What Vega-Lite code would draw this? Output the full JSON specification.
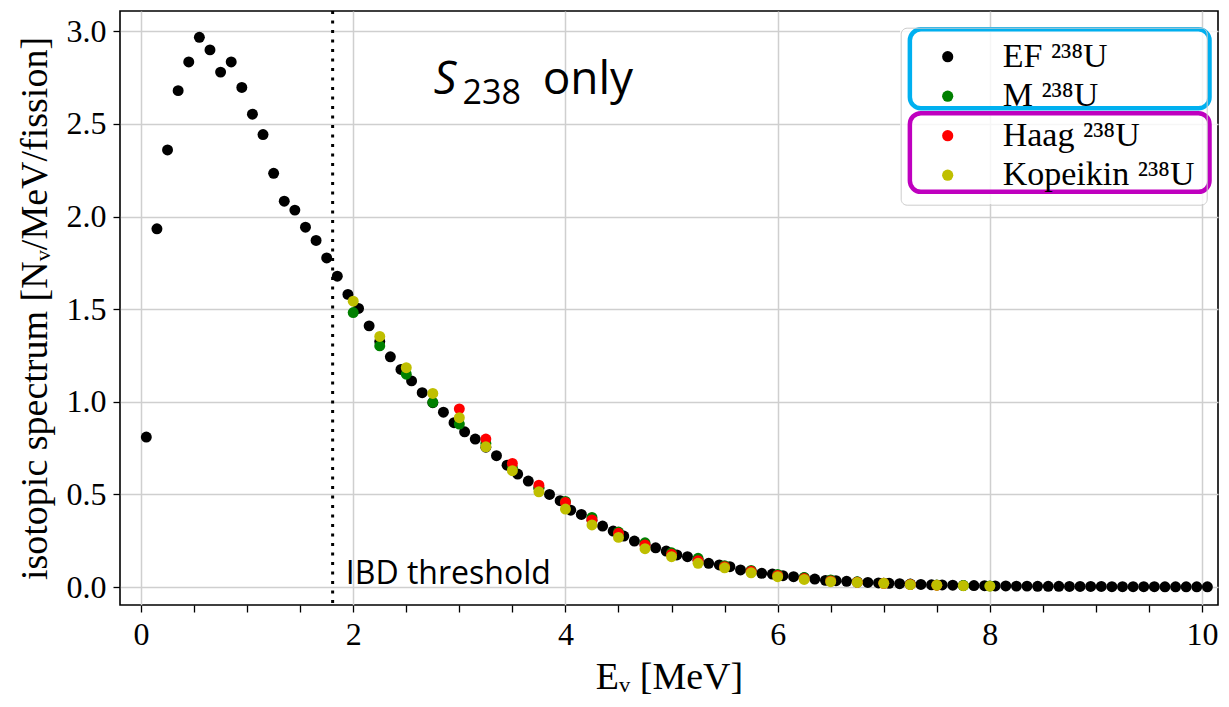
{
  "$schema": "https://vega.github.io/schema/vega-lite/v6.json",
  "width": 1098,
  "height": 594,
  "autosize": {"type": "none"},
  "padding": {"left": 120, "top": 11, "right": 11, "bottom": 102},
  "background": "white",
  "config": {
    "view": {"stroke": "black", "strokeWidth": 1.6},
    "axis": {
      "labelFont": "Liberation Serif",
      "labelFontSize": 32,
      "labelColor": "black",
      "titleFont": "Liberation Serif",
      "titleFontSize": 38,
      "titleFontWeight": "normal",
      "titleColor": "black",
      "tickColor": "black",
      "tickSize": 7,
      "tickWidth": 1.3,
      "domain": false,
      "gridColor": "#cfcfcf",
      "gridWidth": 1.5,
      "labelPadding": 7
    }
  },
  "datasets": {
    "spectra": [
      {"E": 0.05, "S": 0.81, "model": "EF ²³⁸U"},
      {"E": 0.15, "S": 1.934, "model": "EF ²³⁸U"},
      {"E": 0.25, "S": 2.36, "model": "EF ²³⁸U"},
      {"E": 0.35, "S": 2.68, "model": "EF ²³⁸U"},
      {"E": 0.45, "S": 2.835, "model": "EF ²³⁸U"},
      {"E": 0.55, "S": 2.968, "model": "EF ²³⁸U"},
      {"E": 0.65, "S": 2.9, "model": "EF ²³⁸U"},
      {"E": 0.75, "S": 2.78, "model": "EF ²³⁸U"},
      {"E": 0.85, "S": 2.835, "model": "EF ²³⁸U"},
      {"E": 0.95, "S": 2.697, "model": "EF ²³⁸U"},
      {"E": 1.05, "S": 2.553, "model": "EF ²³⁸U"},
      {"E": 1.15, "S": 2.443, "model": "EF ²³⁸U"},
      {"E": 1.25, "S": 2.234, "model": "EF ²³⁸U"},
      {"E": 1.35, "S": 2.083, "model": "EF ²³⁸U"},
      {"E": 1.45, "S": 2.035, "model": "EF ²³⁸U"},
      {"E": 1.55, "S": 1.943, "model": "EF ²³⁸U"},
      {"E": 1.65, "S": 1.871, "model": "EF ²³⁸U"},
      {"E": 1.75, "S": 1.777, "model": "EF ²³⁸U"},
      {"E": 1.85, "S": 1.678, "model": "EF ²³⁸U"},
      {"E": 1.95, "S": 1.58, "model": "EF ²³⁸U"},
      {"E": 2.05, "S": 1.504, "model": "EF ²³⁸U"},
      {"E": 2.15, "S": 1.41, "model": "EF ²³⁸U"},
      {"E": 2.25, "S": 1.325, "model": "EF ²³⁸U"},
      {"E": 2.35, "S": 1.243, "model": "EF ²³⁸U"},
      {"E": 2.45, "S": 1.175, "model": "EF ²³⁸U"},
      {"E": 2.55, "S": 1.113, "model": "EF ²³⁸U"},
      {"E": 2.65, "S": 1.049, "model": "EF ²³⁸U"},
      {"E": 2.75, "S": 0.995, "model": "EF ²³⁸U"},
      {"E": 2.85, "S": 0.944, "model": "EF ²³⁸U"},
      {"E": 2.95, "S": 0.887, "model": "EF ²³⁸U"},
      {"E": 3.05, "S": 0.838, "model": "EF ²³⁸U"},
      {"E": 3.15, "S": 0.799, "model": "EF ²³⁸U"},
      {"E": 3.25, "S": 0.755, "model": "EF ²³⁸U"},
      {"E": 3.35, "S": 0.709, "model": "EF ²³⁸U"},
      {"E": 3.45, "S": 0.658, "model": "EF ²³⁸U"},
      {"E": 3.55, "S": 0.61, "model": "EF ²³⁸U"},
      {"E": 3.65, "S": 0.572, "model": "EF ²³⁸U"},
      {"E": 3.75, "S": 0.535, "model": "EF ²³⁸U"},
      {"E": 3.85, "S": 0.5, "model": "EF ²³⁸U"},
      {"E": 3.95, "S": 0.466, "model": "EF ²³⁸U"},
      {"E": 4.05, "S": 0.415, "model": "EF ²³⁸U"},
      {"E": 4.15, "S": 0.392, "model": "EF ²³⁸U"},
      {"E": 4.25, "S": 0.36, "model": "EF ²³⁸U"},
      {"E": 4.35, "S": 0.329, "model": "EF ²³⁸U"},
      {"E": 4.45, "S": 0.302, "model": "EF ²³⁸U"},
      {"E": 4.55, "S": 0.275, "model": "EF ²³⁸U"},
      {"E": 4.65, "S": 0.248, "model": "EF ²³⁸U"},
      {"E": 4.75, "S": 0.228, "model": "EF ²³⁸U"},
      {"E": 4.85, "S": 0.212, "model": "EF ²³⁸U"},
      {"E": 4.95, "S": 0.194, "model": "EF ²³⁸U"},
      {"E": 5.05, "S": 0.173, "model": "EF ²³⁸U"},
      {"E": 5.15, "S": 0.164, "model": "EF ²³⁸U"},
      {"E": 5.25, "S": 0.145, "model": "EF ²³⁸U"},
      {"E": 5.35, "S": 0.128, "model": "EF ²³⁸U"},
      {"E": 5.45, "S": 0.119, "model": "EF ²³⁸U"},
      {"E": 5.55, "S": 0.11, "model": "EF ²³⁸U"},
      {"E": 5.65, "S": 0.092, "model": "EF ²³⁸U"},
      {"E": 5.75, "S": 0.083, "model": "EF ²³⁸U"},
      {"E": 5.85, "S": 0.074, "model": "EF ²³⁸U"},
      {"E": 5.95, "S": 0.07, "model": "EF ²³⁸U"},
      {"E": 6.05, "S": 0.061, "model": "EF ²³⁸U"},
      {"E": 6.15, "S": 0.056, "model": "EF ²³⁸U"},
      {"E": 6.25, "S": 0.05, "model": "EF ²³⁸U"},
      {"E": 6.35, "S": 0.043, "model": "EF ²³⁸U"},
      {"E": 6.45, "S": 0.036, "model": "EF ²³⁸U"},
      {"E": 6.55, "S": 0.034, "model": "EF ²³⁸U"},
      {"E": 6.65, "S": 0.031, "model": "EF ²³⁸U"},
      {"E": 6.75, "S": 0.027, "model": "EF ²³⁸U"},
      {"E": 6.85, "S": 0.025, "model": "EF ²³⁸U"},
      {"E": 6.95, "S": 0.022, "model": "EF ²³⁸U"},
      {"E": 7.05, "S": 0.02, "model": "EF ²³⁸U"},
      {"E": 7.15, "S": 0.018, "model": "EF ²³⁸U"},
      {"E": 7.25, "S": 0.016, "model": "EF ²³⁸U"},
      {"E": 7.35, "S": 0.014, "model": "EF ²³⁸U"},
      {"E": 7.45, "S": 0.012, "model": "EF ²³⁸U"},
      {"E": 7.55, "S": 0.011, "model": "EF ²³⁸U"},
      {"E": 7.65, "S": 0.01, "model": "EF ²³⁸U"},
      {"E": 7.75, "S": 0.009, "model": "EF ²³⁸U"},
      {"E": 7.85, "S": 0.008, "model": "EF ²³⁸U"},
      {"E": 7.95, "S": 0.007, "model": "EF ²³⁸U"},
      {"E": 8.05, "S": 0.006, "model": "EF ²³⁸U"},
      {"E": 8.15, "S": 0.006, "model": "EF ²³⁸U"},
      {"E": 8.25, "S": 0.005, "model": "EF ²³⁸U"},
      {"E": 8.35, "S": 0.005, "model": "EF ²³⁸U"},
      {"E": 8.45, "S": 0.004, "model": "EF ²³⁸U"},
      {"E": 8.55, "S": 0.004, "model": "EF ²³⁸U"},
      {"E": 8.65, "S": 0.004, "model": "EF ²³⁸U"},
      {"E": 8.75, "S": 0.003, "model": "EF ²³⁸U"},
      {"E": 8.85, "S": 0.003, "model": "EF ²³⁸U"},
      {"E": 8.95, "S": 0.003, "model": "EF ²³⁸U"},
      {"E": 9.05, "S": 0.003, "model": "EF ²³⁸U"},
      {"E": 9.15, "S": 0.002, "model": "EF ²³⁸U"},
      {"E": 9.25, "S": 0.002, "model": "EF ²³⁸U"},
      {"E": 9.35, "S": 0.002, "model": "EF ²³⁸U"},
      {"E": 9.45, "S": 0.002, "model": "EF ²³⁸U"},
      {"E": 9.55, "S": 0.002, "model": "EF ²³⁸U"},
      {"E": 9.65, "S": 0.001, "model": "EF ²³⁸U"},
      {"E": 9.75, "S": 0.001, "model": "EF ²³⁸U"},
      {"E": 9.85, "S": 0.001, "model": "EF ²³⁸U"},
      {"E": 9.95, "S": 0.001, "model": "EF ²³⁸U"},
      {"E": 10.05, "S": 0.001, "model": "EF ²³⁸U"},
      {"E": 2.0, "S": 1.482, "model": "M ²³⁸U"},
      {"E": 2.25, "S": 1.302, "model": "M ²³⁸U"},
      {"E": 2.5, "S": 1.149, "model": "M ²³⁸U"},
      {"E": 2.75, "S": 0.997, "model": "M ²³⁸U"},
      {"E": 3.0, "S": 0.88, "model": "M ²³⁸U"},
      {"E": 3.25, "S": 0.775, "model": "M ²³⁸U"},
      {"E": 3.5, "S": 0.645, "model": "M ²³⁸U"},
      {"E": 3.75, "S": 0.535, "model": "M ²³⁸U"},
      {"E": 4.0, "S": 0.462, "model": "M ²³⁸U"},
      {"E": 4.25, "S": 0.376, "model": "M ²³⁸U"},
      {"E": 4.5, "S": 0.297, "model": "M ²³⁸U"},
      {"E": 4.75, "S": 0.239, "model": "M ²³⁸U"},
      {"E": 5.0, "S": 0.185, "model": "M ²³⁸U"},
      {"E": 5.25, "S": 0.155, "model": "M ²³⁸U"},
      {"E": 5.5, "S": 0.115, "model": "M ²³⁸U"},
      {"E": 5.75, "S": 0.09, "model": "M ²³⁸U"},
      {"E": 6.0, "S": 0.068, "model": "M ²³⁸U"},
      {"E": 6.25, "S": 0.052, "model": "M ²³⁸U"},
      {"E": 6.5, "S": 0.038, "model": "M ²³⁸U"},
      {"E": 6.75, "S": 0.028, "model": "M ²³⁸U"},
      {"E": 7.0, "S": 0.021, "model": "M ²³⁸U"},
      {"E": 7.25, "S": 0.015, "model": "M ²³⁸U"},
      {"E": 7.5, "S": 0.011, "model": "M ²³⁸U"},
      {"E": 7.75, "S": 0.008, "model": "M ²³⁸U"},
      {"E": 8.0, "S": 0.006, "model": "M ²³⁸U"},
      {"E": 3.0, "S": 0.962, "model": "Haag ²³⁸U"},
      {"E": 3.25, "S": 0.799, "model": "Haag ²³⁸U"},
      {"E": 3.5, "S": 0.667, "model": "Haag ²³⁸U"},
      {"E": 3.75, "S": 0.55, "model": "Haag ²³⁸U"},
      {"E": 4.0, "S": 0.457, "model": "Haag ²³⁸U"},
      {"E": 4.25, "S": 0.362, "model": "Haag ²³⁸U"},
      {"E": 4.5, "S": 0.29, "model": "Haag ²³⁸U"},
      {"E": 4.75, "S": 0.227, "model": "Haag ²³⁸U"},
      {"E": 5.0, "S": 0.177, "model": "Haag ²³⁸U"},
      {"E": 5.25, "S": 0.142, "model": "Haag ²³⁸U"},
      {"E": 5.5, "S": 0.11, "model": "Haag ²³⁸U"},
      {"E": 5.75, "S": 0.085, "model": "Haag ²³⁸U"},
      {"E": 6.0, "S": 0.063, "model": "Haag ²³⁸U"},
      {"E": 6.25, "S": 0.046, "model": "Haag ²³⁸U"},
      {"E": 6.5, "S": 0.033, "model": "Haag ²³⁸U"},
      {"E": 6.75, "S": 0.026, "model": "Haag ²³⁸U"},
      {"E": 7.0, "S": 0.02, "model": "Haag ²³⁸U"},
      {"E": 7.25, "S": 0.014, "model": "Haag ²³⁸U"},
      {"E": 7.5, "S": 0.01, "model": "Haag ²³⁸U"},
      {"E": 2.0, "S": 1.543, "model": "Kopeikin ²³⁸U"},
      {"E": 2.25, "S": 1.353, "model": "Kopeikin ²³⁸U"},
      {"E": 2.5, "S": 1.184, "model": "Kopeikin ²³⁸U"},
      {"E": 2.75, "S": 1.045, "model": "Kopeikin ²³⁸U"},
      {"E": 3.0, "S": 0.914, "model": "Kopeikin ²³⁸U"},
      {"E": 3.25, "S": 0.757, "model": "Kopeikin ²³⁸U"},
      {"E": 3.5, "S": 0.628, "model": "Kopeikin ²³⁸U"},
      {"E": 3.75, "S": 0.514, "model": "Kopeikin ²³⁸U"},
      {"E": 4.0, "S": 0.421, "model": "Kopeikin ²³⁸U"},
      {"E": 4.25, "S": 0.335, "model": "Kopeikin ²³⁸U"},
      {"E": 4.5, "S": 0.268, "model": "Kopeikin ²³⁸U"},
      {"E": 4.75, "S": 0.207, "model": "Kopeikin ²³⁸U"},
      {"E": 5.0, "S": 0.164, "model": "Kopeikin ²³⁸U"},
      {"E": 5.25, "S": 0.128, "model": "Kopeikin ²³⁸U"},
      {"E": 5.5, "S": 0.104, "model": "Kopeikin ²³⁸U"},
      {"E": 5.75, "S": 0.077, "model": "Kopeikin ²³⁸U"},
      {"E": 6.0, "S": 0.056, "model": "Kopeikin ²³⁸U"},
      {"E": 6.25, "S": 0.041, "model": "Kopeikin ²³⁸U"},
      {"E": 6.5, "S": 0.029, "model": "Kopeikin ²³⁸U"},
      {"E": 6.75, "S": 0.025, "model": "Kopeikin ²³⁸U"},
      {"E": 7.0, "S": 0.02, "model": "Kopeikin ²³⁸U"},
      {"E": 7.25, "S": 0.013, "model": "Kopeikin ²³⁸U"},
      {"E": 7.5, "S": 0.01, "model": "Kopeikin ²³⁸U"},
      {"E": 7.75, "S": 0.007, "model": "Kopeikin ²³⁸U"},
      {"E": 8.0, "S": 0.005, "model": "Kopeikin ²³⁸U"}
    ]
  },
  "layer": [
    {
      "data": {"name": "spectra"},
      "mark": {"type": "circle", "size": 120, "opacity": 1},
      "encoding": {
        "x": {
          "field": "E", "type": "quantitative",
          "scale": {"domain": [-0.198, 10.15], "nice": false, "zero": false},
          "axis": {
            "values": [0, 0.5, 1, 1.5, 2, 2.5, 3, 3.5, 4, 4.5, 5, 5.5, 6, 6.5, 7, 7.5, 8, 8.5, 9, 9.5, 10],
            "labelExpr": "datum.value % 2 === 0 ? format(datum.value, 'd') : ''",
            "gridOpacity": {"condition": {"test": "datum.value % 2 === 0", "value": 1}, "value": 0},
            "title": "Eᵥ [MeV]",
            "titlePadding": 8
          }
        },
        "y": {
          "field": "S", "type": "quantitative",
          "scale": {"domain": [-0.097, 3.11], "nice": false, "zero": false},
          "axis": {
            "values": [0, 0.5, 1, 1.5, 2, 2.5, 3],
            "format": ".1f",
            "title": "isotopic spectrum [Nᵥ/MeV/fission]",
            "titlePadding": 12
          }
        },
        "color": {
          "field": "model", "type": "nominal",
          "scale": {
            "domain": ["EF ²³⁸U", "M ²³⁸U", "Haag ²³⁸U", "Kopeikin ²³⁸U"],
            "range": ["#000000", "#008000", "#ff0000", "#bfbf00"]
          },
          "legend": {
            "orient": "none",
            "legendX": 780.7,
            "legendY": 16.7,
            "title": null,
            "symbolType": "circle",
            "symbolSize": 125,
            "symbolStrokeWidth": 0,
            "symbolOpacity": 1,
            "labelFont": "Liberation Serif",
            "labelFontSize": 34,
            "labelColor": "black",
            "labelLimit": 400,
            "labelOffset": 38,
            "symbolOffset": 18,
            "rowPadding": 5.5,
            "padding": 12,
            "strokeColor": "#cccccc",
            "cornerRadius": 6
          }
        }
      }
    },
    {
      "data": {"values": [{}]},
      "mark": {"type": "rule", "color": "black", "strokeWidth": 3, "strokeDash": [3, 6.5]},
      "encoding": {"x": {"datum": 1.806}}
    },
    {
      "data": {"values": [{}]},
      "mark": {"type": "rect", "fill": "white", "fillOpacity": 0.8},
      "encoding": {"x": {"datum": 7.153}, "x2": {"datum": 10.14}, "y": {"datum": 3.021}, "y2": {"datum": 2.068}}
    },
    {
      "data": {"values": [{}]},
      "mark": {"type": "rect", "filled": false, "color": "#00b0f0", "strokeWidth": 4.5, "cornerRadius": 11},
      "encoding": {"x": {"datum": 7.246}, "x2": {"datum": 10.07}, "y": {"datum": 3.011}, "y2": {"datum": 2.585}}
    },
    {
      "data": {"values": [{}]},
      "mark": {"type": "rect", "filled": false, "color": "#bf00bf", "strokeWidth": 4.5, "cornerRadius": 11},
      "encoding": {"x": {"datum": 7.246}, "x2": {"datum": 10.07}, "y": {"datum": 2.558}, "y2": {"datum": 2.134}}
    },
    {
      "data": {"values": [{}]},
      "mark": {"type": "text", "text": "IBD threshold", "font": "Open Sans", "fontSize": 32, "align": "left", "baseline": "alphabetic", "color": "black"},
      "encoding": {"x": {"datum": 1.93}, "y": {"datum": 0.016}}
    },
    {
      "data": {"values": [{}]},
      "mark": {"type": "text", "text": "S", "font": "Open Sans", "fontStyle": "italic", "fontSize": 45, "align": "left", "baseline": "alphabetic", "color": "black"},
      "encoding": {"x": {"datum": 2.76}, "y": {"datum": 2.66}}
    },
    {
      "data": {"values": [{}]},
      "mark": {"type": "text", "text": "238", "font": "Open Sans", "fontSize": 34, "align": "left", "baseline": "alphabetic", "color": "black"},
      "encoding": {"x": {"datum": 3.03}, "y": {"datum": 2.61}}
    },
    {
      "data": {"values": [{}]},
      "mark": {"type": "text", "text": "only", "font": "Open Sans", "fontSize": 46, "align": "left", "baseline": "alphabetic", "color": "black"},
      "encoding": {"x": {"datum": 3.785}, "y": {"datum": 2.66}}
    }
  ]
}
